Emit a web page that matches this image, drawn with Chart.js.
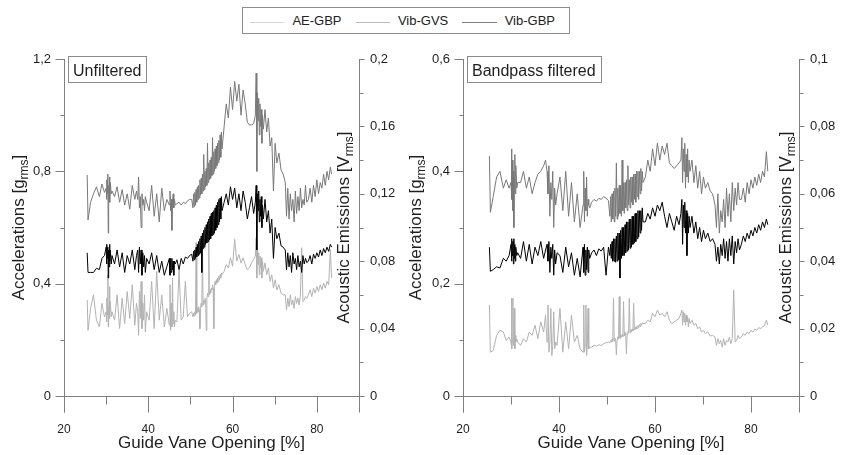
<!DOCTYPE html>
<html>
<head>
<meta charset="utf-8">
<script src="https://cdn.jsdelivr.net/npm/chart.js@4.4.1/dist/chart.umd.min.js"></script>
<style>
  html, body { margin: 0; padding: 0; background: #fff; }
  body { width: 841px; height: 455px; position: relative; overflow: hidden;
         font-family: "Liberation Sans", Arial, sans-serif; }
  canvas { position: absolute; top: 0; }
  #legend { position: absolute; left: 242px; top: 7px; width: 328px; height: 27px;
            box-sizing: border-box; border: 1px solid #8c8c8c; background: #fff;
            display: flex; align-items: center; padding-left: 7px; z-index: 2; }
  #legend .sw { width: 37px; height: 1px; margin-top: 3px; }
  #legend .tx { font-size: 13px; color: #222; margin: 0 14px 0 8px; white-space: nowrap; }
</style>
</head>
<body>
<div id="legend"></div>
<canvas id="chartUnf" width="410" height="455" style="left:0"></canvas>
<canvas id="chartBp" width="441" height="455" style="left:400px"></canvas>
<script>
// Guide vane opening [%] of every sample (shared by all series)
const gvo = [
  25.5, 25.7, 26.3, 27, 27.7, 28.4, 29, 29.6,
  30, 30.1, 30.2, 30.3, 30.4, 30.5, 30.6, 30.7, 30.8, 30.9, 31, 31.2, 31.4,
  32, 32.6, 33.2, 33.8, 34.4, 35, 35.6, 36.2, 36.8, 37.2,
  37.5, 37.7, 37.9, 38.1, 38.3, 38.5, 38.7, 38.9, 39.1, 39.3, 39.6,
  40.2, 40.8, 41.4, 42, 42.6, 43.2, 43.8, 44.4,
  45, 45.15, 45.3, 45.45, 45.6, 45.75, 45.9, 46.05, 46.2, 46.4,
  46.8, 47.3, 47.8, 48.3, 48.8, 49.3, 49.8, 50.3,
  50.6, 50.75, 50.9, 51.05, 51.2, 51.35, 51.5, 51.65, 51.8, 51.95,
  52.1, 52.25, 52.4, 52.55, 52.7, 52.85, 53, 53.15, 53.3, 53.45,
  53.6, 53.75, 53.9, 54.05, 54.2, 54.35, 54.5, 54.65, 54.8, 54.95,
  55.1, 55.25, 55.4, 55.55, 55.7, 55.85, 56, 56.15, 56.3, 56.45,
  56.6, 56.75, 56.9, 57.05, 57.2, 57.35, 57.5,
  58, 58.5, 59, 59.5, 60, 60.5, 61, 61.5, 62, 62.5, 63, 63.5, 64, 64.5, 65, 65.4,
  65.6, 65.75, 65.9, 66.05, 66.2, 66.35, 66.5, 66.65, 66.8, 66.95, 67.1, 67.3,
  67.7, 68.1, 68.5, 68.9, 69.3, 69.7, 70.1, 70.5, 71, 71.5, 72,
  72.5, 72.8, 73.1, 73.4, 73.7, 74, 74.3, 74.6, 74.9, 75.2, 75.5, 75.8, 76.1, 76.4, 76.7, 77, 77.3, 77.6,
  78, 78.4, 78.8, 79.2, 79.6, 80, 80.4, 80.8, 81.2, 81.6, 82, 82.4, 82.8, 83.2, 83.5
];

// Unfiltered signals
const unfVibGvs = [
  0.787, 0.627, 0.69, 0.72, 0.745, 0.71, 0.755, 0.725,
  0.74, 0.70, 0.77, 0.72, 0.79, 0.58, 0.75, 0.71, 0.78, 0.69, 0.76, 0.72, 0.73,
  0.71, 0.745, 0.69, 0.735, 0.68, 0.72, 0.665, 0.75, 0.70, 0.73,
  0.70, 0.78, 0.67, 0.71, 0.60, 0.72, 0.68, 0.70, 0.66, 0.71, 0.69,
  0.66, 0.75, 0.64, 0.72, 0.62, 0.74, 0.66, 0.70,
  0.68, 0.73, 0.66, 0.70, 0.59, 0.69, 0.72, 0.67, 0.70, 0.68,
  0.685, 0.69, 0.68, 0.69, 0.685, 0.695, 0.70, 0.70,
  0.67, 0.72, 0.675, 0.725, 0.68, 0.735, 0.69, 0.745, 0.70, 0.75,
  0.705, 0.77, 0.715, 0.775, 0.72, 0.79, 0.73, 0.86, 0.735, 0.80,
  0.745, 0.81, 0.75, 0.90, 0.76, 0.83, 0.77, 0.84, 0.775, 0.85,
  0.785, 0.92, 0.79, 0.87, 0.80, 0.88, 0.81, 0.89, 0.82, 0.90,
  0.83, 0.91, 0.84, 0.93, 0.85, 0.94, 0.88,
  0.96, 1.04, 0.99, 1.10, 1.02, 1.12, 1.05, 1.11, 1.00, 1.09, 1.04, 0.975, 0.965, 0.965, 0.97, 1.0,
  1.15, 0.80, 1.08, 0.98, 1.06, 0.93, 1.04, 0.96, 1.02, 0.90, 1.00, 0.95,
  1.02, 0.94, 0.99, 0.89, 0.92, 0.73, 0.90, 0.83, 0.865, 0.805, 0.79,
  0.76, 0.64, 0.74, 0.63, 0.72, 0.66, 0.70, 0.62, 0.73, 0.65, 0.71, 0.66, 0.74, 0.67, 0.70, 0.68, 0.75, 0.69,
  0.70, 0.74, 0.69, 0.75, 0.71, 0.77, 0.72, 0.76, 0.74, 0.79, 0.75, 0.80, 0.77, 0.815, 0.79
];
const unfVibGbp = [
  0.51, 0.44, 0.44, 0.44, 0.455, 0.45, 0.49, 0.50,
  0.53, 0.47, 0.54, 0.49, 0.53, 0.42, 0.52, 0.46, 0.54, 0.48, 0.52, 0.47, 0.50,
  0.47, 0.52, 0.46, 0.51, 0.44, 0.50, 0.47, 0.52, 0.45, 0.50,
  0.52, 0.44, 0.53, 0.47, 0.52, 0.43, 0.51, 0.46, 0.50, 0.44, 0.49,
  0.47, 0.51, 0.45, 0.50, 0.44, 0.48, 0.43, 0.46,
  0.49, 0.43, 0.49, 0.44, 0.49, 0.45, 0.48, 0.43, 0.48, 0.47,
  0.485, 0.45, 0.49, 0.47, 0.495, 0.49, 0.50, 0.505,
  0.48, 0.515, 0.485, 0.52, 0.49, 0.53, 0.495, 0.54, 0.50, 0.55,
  0.505, 0.56, 0.51, 0.57, 0.44, 0.58, 0.525, 0.59, 0.53, 0.60,
  0.54, 0.61, 0.545, 0.62, 0.55, 0.63, 0.555, 0.64, 0.56, 0.65,
  0.57, 0.655, 0.575, 0.66, 0.58, 0.67, 0.59, 0.68, 0.60, 0.69,
  0.61, 0.70, 0.62, 0.705, 0.63, 0.71, 0.66,
  0.69, 0.72, 0.68, 0.745, 0.70, 0.74, 0.67, 0.72, 0.66, 0.73, 0.69, 0.63, 0.67, 0.71, 0.65, 0.69,
  0.75, 0.52, 0.72, 0.66, 0.73, 0.62, 0.70, 0.64, 0.71, 0.60, 0.68, 0.63,
  0.70, 0.62, 0.66, 0.58, 0.63, 0.49, 0.60, 0.56, 0.58, 0.535, 0.53,
  0.52, 0.45, 0.51, 0.46, 0.50, 0.44, 0.51, 0.47, 0.49, 0.45, 0.50, 0.46, 0.48, 0.44, 0.50, 0.47, 0.49, 0.475,
  0.48, 0.50, 0.47, 0.505, 0.49, 0.51, 0.495, 0.52, 0.50, 0.525, 0.51, 0.53, 0.515, 0.54, 0.53
];
const unfAeGbp = [
  0.057, 0.039, 0.052, 0.060, 0.045, 0.041, 0.055, 0.047,
  0.050, 0.044, 0.058, 0.048, 0.072, 0.041, 0.053, 0.046, 0.065, 0.049, 0.056, 0.047, 0.050,
  0.045, 0.060, 0.040, 0.058, 0.043, 0.062, 0.046, 0.066, 0.042, 0.055,
  0.050, 0.036, 0.062, 0.046, 0.068, 0.040, 0.055, 0.045, 0.060, 0.038, 0.050,
  0.045, 0.068, 0.040, 0.074, 0.045, 0.060, 0.041, 0.052,
  0.042, 0.066, 0.039, 0.055, 0.041, 0.070, 0.043, 0.050, 0.041, 0.045,
  0.044, 0.075, 0.045, 0.047, 0.068, 0.047, 0.049, 0.050,
  0.047, 0.049, 0.0475, 0.050, 0.048, 0.091, 0.049, 0.052, 0.050, 0.053,
  0.051, 0.040, 0.052, 0.055, 0.053, 0.090, 0.054, 0.057, 0.055, 0.058,
  0.057, 0.039, 0.058, 0.061, 0.059, 0.092, 0.060, 0.063, 0.061, 0.064,
  0.063, 0.066, 0.064, 0.040, 0.065, 0.068, 0.066, 0.069, 0.067, 0.070,
  0.068, 0.071, 0.069, 0.072, 0.070, 0.073, 0.072,
  0.074, 0.078, 0.076, 0.082, 0.077, 0.093, 0.080, 0.084, 0.079, 0.082, 0.078, 0.075, 0.076, 0.079, 0.081, 0.083,
  0.094, 0.070, 0.088, 0.078, 0.085, 0.072, 0.083, 0.076, 0.082, 0.070, 0.080, 0.074,
  0.079, 0.072, 0.076, 0.068, 0.072, 0.064, 0.069, 0.063, 0.066, 0.061, 0.060,
  0.060, 0.051, 0.058, 0.053, 0.060, 0.054, 0.057, 0.052, 0.059, 0.055, 0.058, 0.054, 0.060, 0.088, 0.056, 0.057, 0.059, 0.058,
  0.060, 0.063, 0.059, 0.064, 0.061, 0.065, 0.062, 0.066, 0.063, 0.067, 0.064, 0.068, 0.066, 0.087, 0.070
];

// Bandpass filtered signals
const bpVibGvs = [
  0.427, 0.327, 0.355, 0.39, 0.40, 0.37, 0.385, 0.37,
  0.38, 0.44, 0.35, 0.42, 0.33, 0.40, 0.30, 0.39, 0.43, 0.36, 0.41, 0.37, 0.38,
  0.38, 0.40, 0.37, 0.39, 0.36, 0.38, 0.395, 0.40, 0.41, 0.42,
  0.40, 0.36, 0.41, 0.32, 0.38, 0.35, 0.40, 0.30, 0.37, 0.34, 0.36,
  0.39, 0.33, 0.40, 0.32, 0.38, 0.31, 0.36, 0.30,
  0.34, 0.40, 0.31, 0.37, 0.33, 0.39, 0.32, 0.35, 0.34, 0.335,
  0.345, 0.35, 0.347, 0.352, 0.35, 0.355, 0.352, 0.348,
  0.32, 0.355, 0.31, 0.36, 0.315, 0.365, 0.31, 0.37, 0.32, 0.415,
  0.315, 0.37, 0.32, 0.375, 0.325, 0.375, 0.32, 0.42, 0.33, 0.38,
  0.325, 0.38, 0.335, 0.385, 0.33, 0.41, 0.34, 0.385, 0.335, 0.39,
  0.345, 0.39, 0.34, 0.395, 0.35, 0.395, 0.345, 0.40, 0.355, 0.40,
  0.35, 0.40, 0.36, 0.405, 0.365, 0.40, 0.38,
  0.39, 0.42, 0.40, 0.44, 0.41, 0.45, 0.42, 0.445, 0.43, 0.45, 0.415, 0.41, 0.405, 0.41, 0.415, 0.42,
  0.46, 0.38, 0.44, 0.40, 0.45, 0.37, 0.43, 0.39, 0.44, 0.38, 0.42, 0.40,
  0.42, 0.38, 0.41, 0.37, 0.40, 0.36, 0.39, 0.37, 0.38, 0.365, 0.36,
  0.34, 0.30, 0.36, 0.29, 0.33, 0.31, 0.35, 0.30, 0.37, 0.32, 0.36, 0.31, 0.38, 0.33, 0.37, 0.34, 0.38, 0.35,
  0.35, 0.37, 0.345, 0.38, 0.36, 0.385, 0.37, 0.39, 0.375, 0.395, 0.38, 0.40, 0.39, 0.435, 0.40
];
const bpVibGbp = [
  0.265, 0.222, 0.225, 0.23, 0.228, 0.245, 0.24, 0.25,
  0.27, 0.24, 0.28, 0.25, 0.275, 0.235, 0.28, 0.245, 0.27, 0.24, 0.265, 0.25, 0.255,
  0.245, 0.275, 0.24, 0.27, 0.235, 0.265, 0.25, 0.275, 0.245, 0.26,
  0.27, 0.24, 0.275, 0.22, 0.265, 0.245, 0.27, 0.215, 0.26, 0.235, 0.255,
  0.25, 0.22, 0.265, 0.23, 0.255, 0.215, 0.245, 0.212,
  0.265, 0.22, 0.27, 0.215, 0.26, 0.225, 0.265, 0.22, 0.26, 0.245,
  0.255, 0.26, 0.25, 0.262, 0.258, 0.265, 0.215, 0.265,
  0.25, 0.27, 0.245, 0.275, 0.24, 0.28, 0.24, 0.28, 0.238, 0.285,
  0.24, 0.29, 0.242, 0.29, 0.21, 0.295, 0.245, 0.30, 0.25, 0.30,
  0.25, 0.305, 0.255, 0.31, 0.258, 0.31, 0.26, 0.315, 0.263, 0.315,
  0.265, 0.32, 0.27, 0.32, 0.272, 0.325, 0.275, 0.325, 0.28, 0.33,
  0.283, 0.33, 0.29, 0.33, 0.295, 0.335, 0.31,
  0.31, 0.325, 0.315, 0.335, 0.32, 0.34, 0.33, 0.345, 0.32, 0.30, 0.325, 0.31, 0.295, 0.32, 0.305, 0.325,
  0.35, 0.27, 0.34, 0.30, 0.345, 0.29, 0.33, 0.25, 0.325, 0.29, 0.32, 0.30,
  0.32, 0.29, 0.31, 0.28, 0.30, 0.275, 0.295, 0.28, 0.29, 0.275, 0.28,
  0.27, 0.24, 0.265, 0.235, 0.27, 0.25, 0.28, 0.245, 0.275, 0.24, 0.28, 0.25, 0.285, 0.235, 0.275, 0.255, 0.28, 0.26,
  0.27, 0.285, 0.275, 0.29, 0.28, 0.295, 0.285, 0.30, 0.29, 0.305, 0.295, 0.31, 0.30, 0.315, 0.305
];
const bpAeGbp = [
  0.027, 0.013, 0.0135, 0.018, 0.0195, 0.019, 0.0165, 0.0175,
  0.016, 0.029, 0.014, 0.017, 0.029, 0.015, 0.016, 0.026, 0.014, 0.018, 0.016, 0.017, 0.016,
  0.015, 0.017, 0.016, 0.019, 0.018, 0.021, 0.017, 0.022, 0.019, 0.024,
  0.016, 0.027, 0.013, 0.016, 0.026, 0.012, 0.015, 0.025, 0.014, 0.016, 0.015,
  0.026, 0.013, 0.022, 0.014, 0.024, 0.016, 0.018, 0.014,
  0.013, 0.027, 0.013, 0.015, 0.027, 0.012, 0.015, 0.026, 0.014, 0.0145,
  0.0145, 0.015, 0.0148, 0.0152, 0.015, 0.0155, 0.0158, 0.016,
  0.0158, 0.0165, 0.016, 0.0168, 0.0162, 0.029, 0.0163, 0.0172, 0.0165, 0.0122,
  0.0167, 0.0176, 0.0169, 0.0295, 0.0171, 0.018, 0.0174, 0.0183, 0.0176, 0.028,
  0.0178, 0.0188, 0.018, 0.0125, 0.0183, 0.0192, 0.0186, 0.029, 0.0188, 0.0197,
  0.019, 0.0199, 0.0193, 0.0275, 0.0196, 0.0204, 0.0198, 0.0206, 0.02, 0.0209,
  0.0203, 0.0212, 0.0206, 0.0215, 0.021, 0.0218, 0.0215,
  0.0215, 0.0225, 0.022, 0.0245, 0.0235, 0.0255, 0.024, 0.0245, 0.0235, 0.025, 0.0225, 0.0215, 0.022, 0.0225, 0.023, 0.0245,
  0.0255, 0.021, 0.025, 0.022, 0.0245, 0.021, 0.024, 0.022, 0.0235, 0.0205, 0.023, 0.0215,
  0.0225, 0.021, 0.0215, 0.02, 0.0205, 0.019, 0.0195, 0.0185, 0.019, 0.0178, 0.018,
  0.0175, 0.015, 0.017, 0.0155, 0.0165, 0.0145, 0.017, 0.015, 0.0165, 0.016, 0.0175, 0.0155, 0.017, 0.0315, 0.016, 0.0165, 0.018, 0.017,
  0.0175, 0.0185, 0.018, 0.019, 0.0185, 0.0195, 0.019, 0.0198, 0.0195, 0.0203, 0.02, 0.0205, 0.0208, 0.0225, 0.021
];

// Series names and line colours (legend order)
const seriesNames = ['AE-GBP', 'Vib-GVS', 'Vib-GBP'];
const seriesColors = ['#b2b2b2', '#787878', '#000000'];

// Axis ticks
const xTicks = [20, 40, 60, 80];
const xMinor = [30, 50, 70];
const xEnd = 90;
const unfAccTicks = [0, 0.4, 0.8, 1.2];
const unfAccMinor = [0.2, 0.6, 1.0];
const unfAeTicks = [0, 0.04, 0.08, 0.12, 0.16, 0.2];
const unfAeMinor = [0.02, 0.06, 0.1, 0.14, 0.18];
const bpAccTicks = [0, 0.2, 0.4, 0.6];
const bpAccMinor = [0.1, 0.3, 0.5];
const bpAeTicks = [0, 0.02, 0.04, 0.06, 0.08, 0.1];
const bpAeMinor = [0.01, 0.03, 0.05, 0.07, 0.09];

const FONT = '"Liberation Sans", Arial, sans-serif';
const AXIS = '#7f7f7f';
const TEXT = '#1e1e1e';

Chart.defaults.font.family = FONT;

const fmt = v => String(Math.round(v * 1000) / 1000).replace('.', ',');
const pts = ys => gvo.map((x, i) => ({ x, y: ys[i] }));

// legend strip
const legendEl = document.getElementById('legend');
seriesNames.forEach((name, i) => {
  const sw = document.createElement('span');
  sw.className = 'sw';
  sw.style.background = seriesColors[i];
  sw.style.opacity = '0.5';
  const tx = document.createElement('span');
  tx.className = 'tx';
  tx.textContent = name;
  legendEl.appendChild(sw);
  legendEl.appendChild(tx);
});

// axis lines, tick marks, titles and the panel caption
const decor = {
  id: 'decor',
  afterDraw(chart, args, o) {
    const ctx = chart.ctx;
    const { left, right, top, bottom } = chart.chartArea;
    const sx = chart.scales.x, sa = chart.scales.acc, se = chart.scales.ae;
    const al = p => Math.round(p) + 0.5;
    ctx.save();
    ctx.strokeStyle = AXIS;
    ctx.lineWidth = 1;
    const seg = (x1, y1, x2, y2) => { ctx.beginPath(); ctx.moveTo(x1, y1); ctx.lineTo(x2, y2); ctx.stroke(); };
    const L = al(left), R = al(right), B = al(bottom);
    seg(L, top, L, B + 16);
    seg(R, top, R, B + 16);
    seg(L, B, R, B);
    xTicks.forEach(v => { const p = al(sx.getPixelForValue(v)); seg(p, B, p, B + 16); });
    xMinor.forEach(v => { const p = al(sx.getPixelForValue(v)); seg(p, B, p, B + 8); });
    o.accTicks.forEach(v => { const p = al(sa.getPixelForValue(v)); seg(L - 9, p, L, p); });
    o.accMinor.forEach(v => { const p = al(sa.getPixelForValue(v)); seg(L - 4, p, L, p); });
    o.aeTicks.forEach(v => { const p = al(se.getPixelForValue(v)); seg(R, p, R + 5, p); });
    o.aeMinor.forEach(v => { const p = al(se.getPixelForValue(v)); seg(R, p, R + 4, p); });

    // x title
    ctx.fillStyle = TEXT;
    ctx.font = `17px ${FONT}`;
    ctx.textAlign = 'center';
    ctx.textBaseline = 'middle';
    ctx.fillText('Guide Vane Opening [%]', (left + right) / 2, 443);

    // rotated y titles with subscript
    const vTitle = (cx, parts) => {
      const size = 17, sub = 12;
      ctx.save();
      ctx.translate(cx, (top + bottom) / 2);
      ctx.rotate(-Math.PI / 2);
      ctx.textAlign = 'left';
      ctx.textBaseline = 'alphabetic';
      let total = 0;
      const ws = parts.map(([t, s]) => { ctx.font = `${s ? sub : size}px ${FONT}`; const w = ctx.measureText(t).width; total += w; return w; });
      let x = -total / 2;
      parts.forEach(([t, s], i) => {
        ctx.font = `${s ? sub : size}px ${FONT}`;
        ctx.fillText(t, x, s ? 10 : 6);
        x += ws[i];
      });
      ctx.restore();
    };
    vTitle(o.accTitleX, [['Accelerations [g', false], ['rms', true], [']', false]]);
    vTitle(o.aeTitleX, [['Acoustic Emissions [V', false], ['rms', true], [']', false]]);

    // caption box
    ctx.font = `16px ${FONT}`;
    ctx.textAlign = 'left';
    ctx.textBaseline = 'alphabetic';
    const w = ctx.measureText(o.caption).width;
    ctx.strokeStyle = '#8a8a8a';
    ctx.strokeRect(Math.round(left) + 4.5, 56.5, Math.round(w) + 10, 26);
    ctx.fillStyle = TEXT;
    ctx.fillText(o.caption, left + 9, 75.5);
    ctx.restore();
  }
};

function makeChart(id, cfg) {
  const canvas = document.getElementById(id);
  return new Chart(canvas, {
    type: 'line',
    data: {
      datasets: [
        { label: seriesNames[0], data: pts(cfg.ae), yAxisID: 'ae', borderColor: seriesColors[0], order: 3 },
        { label: seriesNames[1], data: pts(cfg.gvs), yAxisID: 'acc', borderColor: seriesColors[1], order: 2 },
        { label: seriesNames[2], data: pts(cfg.gbp), yAxisID: 'acc', borderColor: seriesColors[2], order: 1 }
      ]
    },
    options: {
      responsive: false,
      animation: false,
      devicePixelRatio: 1,
      layout: { padding: { top: 59, left: 0, right: 0, bottom: 0 } },
      elements: { point: { radius: 0 }, line: { borderWidth: 1, tension: 0 } },
      plugins: {
        legend: { display: false },
        tooltip: { enabled: false },
        decor: cfg.decor
      },
      scales: {
        x: {
          type: 'linear', min: 20, max: xEnd,
          afterBuildTicks: s => { s.ticks = xTicks.map(v => ({ value: v })); },
          afterFit: s => { s.height = 59; },
          grid: { display: false, drawTicks: false },
          border: { display: false },
          ticks: { padding: 26, color: TEXT, font: { size: 12 }, maxRotation: 0, callback: v => fmt(v) }
        },
        acc: {
          type: 'linear', position: 'left', min: 0, max: cfg.accTicks[cfg.accTicks.length - 1],
          afterBuildTicks: s => { s.ticks = cfg.accTicks.map(v => ({ value: v })); },
          afterFit: s => { s.width = cfg.leftW; },
          grid: { display: false, drawTicks: false },
          border: { display: false },
          ticks: { padding: 13, color: TEXT, font: { size: 13 }, callback: v => fmt(v) }
        },
        ae: {
          type: 'linear', position: 'right', min: 0, max: cfg.aeTicks[cfg.aeTicks.length - 1],
          afterBuildTicks: s => { s.ticks = cfg.aeTicks.map(v => ({ value: v })); },
          afterFit: s => { s.width = cfg.rightW; },
          grid: { display: false, drawTicks: false },
          border: { display: false },
          ticks: { padding: 11, color: TEXT, font: { size: 13 }, callback: v => fmt(v) }
        }
      }
    },
    plugins: [decor]
  });
}

makeChart('chartUnf', {
  ae: unfAeGbp, gvs: unfVibGvs, gbp: unfVibGbp,
  accTicks: unfAccTicks, aeTicks: unfAeTicks,
  leftW: 64, rightW: 51,
  decor: { caption: 'Unfiltered', accTicks: unfAccTicks, accMinor: unfAccMinor,
           aeTicks: unfAeTicks, aeMinor: unfAeMinor, accTitleX: 18, aeTitleX: 343 }
});

makeChart('chartBp', {
  ae: bpAeGbp, gvs: bpVibGvs, gbp: bpVibGbp,
  accTicks: bpAccTicks, aeTicks: bpAeTicks,
  leftW: 63, rightW: 42,
  decor: { caption: 'Bandpass filtered', accTicks: bpAccTicks, accMinor: bpAccMinor,
           aeTicks: bpAeTicks, aeMinor: bpAeMinor, accTitleX: 15, aeTitleX: 385 }
});
</script>
</body>
</html>
